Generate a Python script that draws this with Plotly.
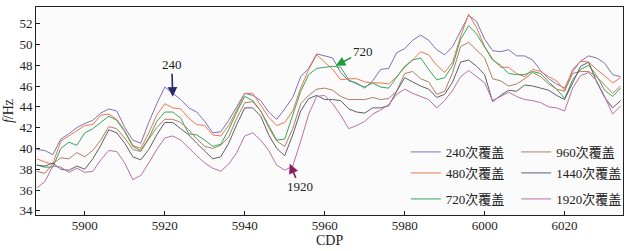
import plotly.graph_objects as go

cdp = list(range(5888, 6035, 2))

f240 = [39.9, 39.8, 39.4, 40.9, 41.4, 42.0, 42.4, 42.7, 43.4, 43.8, 43.6, 42.0, 40.8, 40.5, 42.5, 44.3,
        45.9, 45.3, 44.7, 43.9, 43.5, 42.6, 41.5, 41.6, 42.7, 44.0, 45.3, 45.1, 44.6, 43.5, 42.8, 43.8,
        44.9, 46.9, 47.7, 49.1, 48.9, 48.7, 47.3, 46.5, 46.3, 45.8, 46.5, 47.6, 47.7, 49.2, 49.6, 50.4,
        50.9, 50.4, 49.5, 49.0, 49.8, 51.3, 52.8, 52.2, 50.5, 49.4, 49.3, 49.5, 48.9, 48.9, 48.5, 47.5,
        46.7, 46.2, 45.8, 47.4, 48.4, 48.9, 48.7, 48.2, 47.1, 46.9]
f480 = [39.0, 38.7, 38.5, 40.7, 41.2, 41.7, 42.2, 42.3, 43.2, 43.3, 42.8, 41.7, 40.3, 40.0, 41.5, 43.2,
        44.3, 43.9, 43.8, 42.9, 42.3, 42.2, 41.3, 41.2, 42.2, 43.7, 45.3, 45.3, 44.2, 43.0, 42.2, 42.5,
        43.6, 45.8, 47.6, 49.0, 48.3, 47.6, 46.6, 46.7, 46.7, 46.4, 46.3, 46.3, 46.2, 46.9, 47.8, 48.5,
        49.3, 49.0, 48.0, 47.3, 48.3, 50.8, 52.9, 51.6, 49.8, 48.6, 47.8, 47.8, 47.2, 46.9, 47.6, 47.4,
        46.9, 46.5, 45.6, 47.6, 48.4, 48.3, 47.6, 47.0, 46.3, 46.8]
f720 = [38.4, 38.2, 38.2, 40.0, 40.6, 40.3, 41.5, 41.9, 42.5, 43.1, 42.7, 41.6, 40.2, 39.8, 41.0, 42.6,
        43.5, 43.5, 42.9, 41.4, 41.3, 40.8, 40.2, 40.4, 41.8, 43.5, 45.0, 44.6, 43.6, 42.2, 40.8, 40.9,
        43.3, 45.5, 47.1, 47.7, 47.8, 47.9, 47.8, 46.6, 46.2, 45.9, 46.3, 45.9, 45.8, 46.8, 47.9, 48.5,
        48.7, 47.6, 46.6, 46.8, 48.0, 50.5, 51.8, 51.0, 49.7, 48.5, 48.0, 47.2, 47.1, 47.1, 47.4, 47.2,
        46.4, 45.7, 44.8, 46.6, 47.6, 48.0, 47.0, 45.6, 45.0, 45.8]
f960 = [37.8, 37.6, 38.5, 39.1, 39.0, 39.6, 39.2, 39.8, 40.8, 42.1, 41.9, 41.0, 39.9, 39.7, 40.9, 42.0,
        42.8, 42.8, 42.5, 41.8, 40.9, 40.2, 40.0, 40.3, 41.1, 42.9, 44.4, 44.5, 43.6, 42.0, 40.7, 40.2,
        41.9, 44.3, 45.1, 45.7, 45.8, 45.6, 45.0, 44.7, 44.7, 44.7, 44.9, 44.7, 44.8, 45.5, 47.2, 47.4,
        46.7, 46.4, 45.2, 45.5, 47.3, 49.8, 50.2, 49.4, 48.7, 46.7, 46.5, 46.0, 46.2, 46.7, 47.3, 46.9,
        46.2, 45.7, 45.5, 47.2, 47.4, 47.4, 46.9, 46.1, 45.3, 46.0]
f1440 = [38.4, 38.3, 38.6, 38.0, 37.9, 38.3, 38.0, 39.0, 40.3, 41.8, 41.5, 40.5, 39.2, 38.9, 39.9, 41.3,
         42.5, 42.5, 41.9, 41.3, 40.5, 39.7, 39.0, 39.2, 40.5, 42.3, 43.9, 43.9, 43.1, 41.3, 40.0, 39.3,
         41.3, 43.6, 44.8, 45.1, 44.7, 44.7, 44.6, 43.8, 43.5, 43.4, 43.9, 43.9, 44.1, 45.5, 46.8, 46.4,
         46.0, 45.7, 44.9, 45.2, 46.4, 48.3, 48.5, 47.9, 47.1, 44.5, 45.1, 45.6, 45.5, 46.1, 46.0, 45.8,
         45.6, 45.1, 44.7, 46.3, 47.9, 48.3, 46.4, 44.9, 43.9, 44.6]
f1920 = [36.2, 36.8, 38.3, 38.2, 37.7, 38.1, 37.7, 37.8, 38.9, 39.8, 39.7, 38.6, 37.0, 37.4, 38.6, 39.9,
         41.0, 41.2, 40.8, 40.0, 39.3, 38.6, 38.1, 37.8, 38.5, 39.6, 41.2, 41.5, 40.8, 39.8, 38.4, 37.9,
         38.3, 40.7, 43.3, 45.0, 45.1, 44.3, 43.2, 41.9, 42.2, 42.6, 43.3, 43.7, 44.2, 45.2, 45.7, 45.3,
         45.0, 44.7, 43.9, 44.6, 45.6, 46.9, 47.5, 46.9, 46.3, 44.6, 45.0, 45.4, 45.0, 44.7, 44.6, 44.4,
         44.0, 43.9, 43.6, 45.8, 47.0, 47.3, 46.5, 45.0, 43.3, 44.1]

names = ["240次覆盖", "480次覆盖", "720次覆盖", "960次覆盖", "1440次覆盖", "1920次覆盖"]
series = [f240, f480, f720, f960, f1440, f1920]
colors = ["#7d72b8", "#f07550", "#35a85a", "#b07e60", "#5e5e6a", "#b870a6"]

FONT = "Liberation Serif, Noto Sans CJK SC, serif"

# one single-item legend per entry, arranged as 2 columns x 3 rows
legend_ids = ["legend", "legend2", "legend3", "legend4", "legend5", "legend6"]
legend_x = [0.63, 0.63, 0.63, 0.818, 0.818, 0.818]
legend_y = [0.303, 0.202, 0.077, 0.303, 0.202, 0.077]

fig = go.Figure()
for n, s, c, lg in zip(names, series, colors, legend_ids):
    fig.add_trace(go.Scatter(x=cdp, y=s, mode="lines", name=n, legend=lg,
                             line=dict(color=c, width=1)))

ann_common = dict(showarrow=True, arrowhead=2, arrowsize=1.2, arrowwidth=1.6,
                  font=dict(family=FONT, size=13, color="#222"))
fig.add_annotation(x=5922, y=44.97, ax=-1, ay=-32, text="240", arrowcolor="#2a2a6e", **ann_common)
fig.add_annotation(x=5962.75, y=47.96, ax=27, ay=-14, text="720", arrowcolor="#1f9a3e", **ann_common)
fig.add_annotation(x=5951.25, y=38.52, ax=10, ay=23, text="1920", arrowcolor="#8a1d5e", **ann_common)
# x-axis title placed explicitly
fig.add_annotation(xref="paper", yref="paper", x=0.5, y=-0.122, yanchor="middle", showarrow=False,
                   text="CDP", font=dict(family=FONT, size=14, color="#222"))

axis_common = dict(showline=True, linecolor="#222", linewidth=1, mirror=True, ticks="inside",
                   ticklen=4, tickcolor="#222", showgrid=False, zeroline=False, automargin=False,
                   tickfont=dict(family=FONT, size=13, color="#222"))
fig.update_xaxes(range=[5887.8, 6034.6], tickvals=[5900, 5920, 5940, 5960, 5980, 6000, 6020],
                 ticklabelstandoff=-2, **axis_common)
fig.update_yaxes(range=[33.6, 53.6], tickvals=list(range(34, 53, 2)),
                 title=dict(text="<i>f</i>/Hz", font=dict(family=FONT, size=14, color="#222"), standoff=2),
                 **axis_common)

layout_legends = {}
for lg, lx, ly in zip(legend_ids, legend_x, legend_y):
    layout_legends[lg] = dict(x=lx, y=ly, xanchor="left", yanchor="middle", bgcolor="rgba(0,0,0,0)",
                              borderwidth=0, itemwidth=30,
                              font=dict(family=FONT, size=13, color="#222"))

fig.update_layout(
    width=637, height=251,
    margin=dict(l=36, r=14, t=7, b=36),
    plot_bgcolor="#fbfbfb", paper_bgcolor="#ffffff",
    showlegend=True,
    **layout_legends,
)

fig.write_html("out.html", config={"displayModeBar": False},
               post_script="document.body.style.margin='0';document.body.style.overflow='hidden';")
